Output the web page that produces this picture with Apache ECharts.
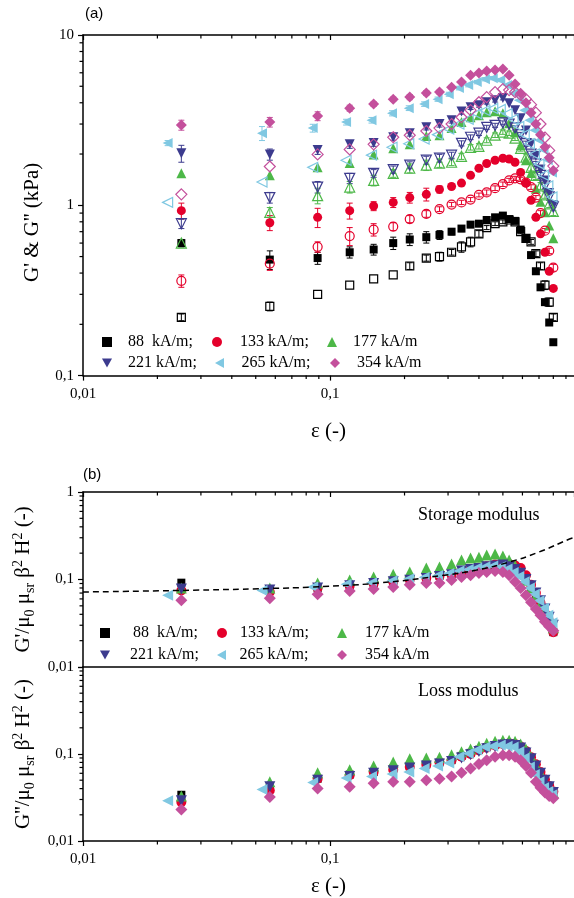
<!DOCTYPE html>
<html>
<head>
<meta charset="utf-8">
<script src="https://cdn.jsdelivr.net/npm/echarts@6.0.0/dist/echarts.min.js"></script>
<style>
  html, body { margin: 0; padding: 0; background: #fff; }
  #chart { width: 574px; height: 898px; }
</style>
</head>
<body>
<div id="chart"></div>
<script>
// strain amplitude (-), 265 kA/m runs sit a little to the left
const strain = [0.025, 0.057, 0.089, 0.12, 0.15, 0.18, 0.21, 0.245, 0.277, 0.31, 0.34, 0.37, 0.40,
  0.43, 0.465, 0.50, 0.53, 0.56, 0.59, 0.62, 0.65, 0.68, 0.71, 0.74, 0.77, 0.80];
const strain265 = [0.022, 0.053, 0.085, 0.116, 0.147, 0.178, 0.208, 0.24, 0.272, 0.302, 0.332, 0.362, 0.392,
  0.423, 0.455, 0.488, 0.52, 0.55, 0.58, 0.61, 0.64, 0.67, 0.70, 0.73, 0.76, 0.79];

const fields = ['88 kA/m', '133 kA/m', '177 kA/m', '221 kA/m', '265 kA/m', '354 kA/m'];
const legendText = ['88  kA/m;', '133 kA/m;', '177 kA/m', '221 kA/m;', '265 kA/m;', '354 kA/m'];

// (a) G' (filled) and G'' (open), kPa
const gp88 = [0.60, 0.48, 0.49, 0.53, 0.55, 0.60, 0.63, 0.65, 0.67, 0.70, 0.73, 0.77, 0.78, 0.82, 0.85, 0.87, 0.83, 0.81, 0.72, 0.64, 0.51, 0.41, 0.33, 0.27, 0.205, 0.157];
const gpp88 = [0.22, 0.255, 0.30, 0.34, 0.37, 0.39, 0.44, 0.49, 0.50, 0.53, 0.57, 0.61, 0.68, 0.74, 0.78, 0.80, 0.82, 0.80, 0.70, 0.64, 0.61, 0.52, 0.44, 0.34, 0.27, 0.22];
const gp133 = [0.93, 0.79, 0.85, 0.93, 0.99, 1.04, 1.11, 1.16, 1.24, 1.29, 1.35, 1.50, 1.65, 1.76, 1.84, 1.89, 1.87, 1.79, 1.56, 1.35, 1.07, 0.85, 0.68, 0.53, 0.41, 0.325];
const gpp133 = [0.36, 0.455, 0.57, 0.66, 0.72, 0.75, 0.83, 0.89, 0.95, 1.01, 1.04, 1.08, 1.15, 1.19, 1.26, 1.33, 1.40, 1.44, 1.42, 1.36, 1.28, 1.11, 0.90, 0.71, 0.54, 0.43];
const gp177 = [1.54, 1.50, 1.67, 1.77, 1.99, 2.16, 2.28, 2.55, 2.58, 2.84, 3.08, 3.29, 3.38, 3.52, 3.57, 3.47, 3.03, 2.69, 2.25, 1.84, 1.55, 1.25, 1.05, 0.91, 0.76, 0.64];
const gpp177 = [0.60, 0.91, 1.14, 1.28, 1.40, 1.54, 1.65, 1.72, 1.77, 1.79, 1.94, 2.19, 2.22, 2.41, 2.58, 2.69, 2.65, 2.48, 2.16, 1.92, 1.67, 1.50, 1.30, 1.15, 1.02, 0.92];
const gp221 = [2.02, 1.99, 2.11, 2.28, 2.32, 2.51, 2.65, 2.87, 3.00, 3.16, 3.55, 3.77, 3.87, 4.03, 4.14, 4.26, 3.98, 3.62, 3.25, 2.75, 2.30, 1.95, 1.62, 1.40, 1.18, 1.00];
const gpp221 = [0.78, 1.11, 1.28, 1.44, 1.54, 1.62, 1.72, 1.84, 1.89, 1.97, 2.31, 2.51, 2.65, 2.87, 2.95, 3.05, 3.00, 2.85, 2.60, 2.30, 2.00, 1.75, 1.50, 1.30, 1.12, 0.98];
const gp265 = [2.32, 2.65, 2.84, 3.08, 3.16, 3.47, 3.72, 3.93, 4.20, 4.49, 4.88, 5.08, 5.29, 5.50, 5.58, 5.44, 5.08, 4.55, 4.14, 3.62, 3.16, 2.76, 2.41, 2.11, 1.84, 1.56];
const gpp265 = [1.04, 1.37, 1.67, 1.84, 1.97, 2.19, 2.30, 2.45, 2.60, 2.80, 3.00, 3.20, 3.45, 3.60, 3.70, 3.65, 3.45, 3.20, 2.90, 2.60, 2.30, 2.00, 1.75, 1.50, 1.30, 1.12];
const gp354 = [2.96, 3.08, 3.34, 3.72, 3.93, 4.20, 4.32, 4.56, 4.62, 4.94, 5.29, 5.81, 5.98, 6.15, 6.23, 6.31, 5.81, 5.16, 4.55, 4.00, 3.50, 3.00, 2.60, 2.20, 1.90, 1.60];
const gpp354 = [1.16, 1.69, 1.99, 2.13, 2.28, 2.51, 2.58, 2.73, 2.84, 3.00, 3.29, 3.62, 4.03, 4.32, 4.62, 4.81, 4.75, 4.62, 4.45, 4.20, 3.90, 3.50, 3.00, 2.50, 2.10, 1.70];

// error bars (+/- kPa), 0 = none visible
const errGp88 = [0.03, 0.06, 0.04, 0.04, 0.04, 0.05, 0.05, 0.05, 0.04, 0.03, 0.03, 0.03, 0.03, 0.03, 0.02, 0.02, 0.02, 0.02, 0.02, 0, 0, 0, 0, 0, 0, 0];
const errGpp88 = [0.01, 0.015, 0, 0, 0, 0, 0.02, 0.02, 0.03, 0.02, 0.04, 0.04, 0.03, 0.02, 0.02, 0.02, 0.02, 0.02, 0.02, 0.02, 0.02, 0.02, 0.02, 0.02, 0.015, 0.01];
const errGp133 = [0.1, 0.08, 0.11, 0.1, 0.06, 0.07, 0.08, 0.1, 0.06, 0.04, 0.03, 0.03, 0.03, 0.03, 0.03, 0.03, 0, 0, 0, 0, 0, 0, 0, 0, 0, 0];
const errGpp133 = [0.03, 0.04, 0.04, 0.08, 0.06, 0.04, 0.04, 0.04, 0.03, 0.03, 0.03, 0.03, 0.03, 0.04, 0.04, 0.04, 0.04, 0.04, 0.04, 0.04, 0.04, 0.03, 0.03, 0.02, 0.02, 0.02];
const errGpp177 = [0, 0.06, 0.12, 0.1, 0.1, 0.08, 0.1, 0.12, 0.1, 0.08, 0.08, 0.08, 0.08, 0.08, 0.08, 0.08, 0.08, 0.08, 0.08, 0.08, 0.08, 0.08, 0.06, 0.05, 0.05, 0.05];
const errGp221 = [0.23, 0.15, 0.12, 0.12, 0.1, 0.1, 0.1, 0.1, 0.12, 0.12, 0.12, 0.12, 0.1, 0.1, 0.1, 0.1, 0, 0, 0, 0, 0, 0, 0, 0, 0, 0];
const errGpp221 = [0.05, 0.08, 0.1, 0.1, 0.08, 0.08, 0.08, 0.1, 0.1, 0.08, 0.08, 0.08, 0.08, 0.08, 0.08, 0.08, 0.08, 0.08, 0.08, 0.08, 0.08, 0.06, 0.06, 0.05, 0.05, 0.05];
const errGp265 = [0.08, 0.25, 0.15, 0.12, 0.12, 0.12, 0.12, 0.12, 0.12, 0.12, 0.12, 0.12, 0.12, 0.12, 0.12, 0.12, 0, 0, 0, 0, 0, 0, 0, 0, 0, 0];
const errGp354 = [0.2, 0.2, 0.2, 0.15, 0.12, 0.12, 0.15, 0.15, 0.12, 0.12, 0.1, 0.1, 0.1, 0.1, 0.1, 0.1, 0, 0, 0, 0, 0, 0, 0, 0, 0, 0];

// (b) normalised storage modulus G'/(mu0 musr beta^2 H^2)
const st88 = [0.092, 0.075, 0.080, 0.085, 0.090, 0.095, 0.100, 0.105, 0.110, 0.115, 0.120, 0.125, 0.130, 0.135, 0.140, 0.145, 0.140, 0.130, 0.115, 0.100, 0.082, 0.066, 0.053, 0.043, 0.033, 0.025];
const st133 = [0.075, 0.072, 0.080, 0.085, 0.090, 0.094, 0.100, 0.104, 0.110, 0.114, 0.120, 0.130, 0.136, 0.142, 0.148, 0.152, 0.150, 0.145, 0.135, 0.112, 0.087, 0.070, 0.054, 0.041, 0.032, 0.025];
const st177 = [0.080, 0.080, 0.091, 0.099, 0.107, 0.115, 0.122, 0.135, 0.139, 0.150, 0.167, 0.176, 0.180, 0.190, 0.196, 0.186, 0.167, 0.145, 0.120, 0.098, 0.080, 0.065, 0.053, 0.043, 0.035, 0.028];
const st221 = [0.078, 0.076, 0.080, 0.085, 0.090, 0.094, 0.098, 0.103, 0.108, 0.113, 0.125, 0.130, 0.134, 0.140, 0.143, 0.146, 0.140, 0.130, 0.118, 0.100, 0.085, 0.070, 0.057, 0.046, 0.037, 0.030];
const st265 = [0.066, 0.075, 0.082, 0.088, 0.092, 0.097, 0.102, 0.106, 0.111, 0.117, 0.125, 0.130, 0.135, 0.140, 0.143, 0.140, 0.132, 0.120, 0.108, 0.094, 0.080, 0.068, 0.057, 0.047, 0.039, 0.032];
const st354 = [0.058, 0.061, 0.068, 0.074, 0.078, 0.082, 0.087, 0.091, 0.091, 0.099, 0.107, 0.112, 0.119, 0.122, 0.125, 0.122, 0.112, 0.094, 0.080, 0.066, 0.055, 0.046, 0.039, 0.033, 0.029, 0.026];

// (b) normalised loss modulus G''/(mu0 musr beta^2 H^2)
const ls88 = [0.034, 0.040, 0.052, 0.058, 0.062, 0.068, 0.072, 0.076, 0.080, 0.085, 0.095, 0.103, 0.112, 0.120, 0.127, 0.130, 0.132, 0.128, 0.120, 0.106, 0.090, 0.074, 0.060, 0.050, 0.042, 0.036];
const ls133 = [0.028, 0.038, 0.052, 0.057, 0.062, 0.066, 0.071, 0.075, 0.080, 0.085, 0.093, 0.100, 0.110, 0.118, 0.125, 0.130, 0.133, 0.130, 0.122, 0.108, 0.092, 0.076, 0.062, 0.051, 0.043, 0.037];
const ls177 = [0.033, 0.048, 0.061, 0.066, 0.073, 0.081, 0.088, 0.090, 0.092, 0.098, 0.106, 0.114, 0.123, 0.133, 0.140, 0.144, 0.144, 0.140, 0.130, 0.114, 0.093, 0.075, 0.061, 0.048, 0.041, 0.036];
const ls221 = [0.029, 0.042, 0.050, 0.055, 0.060, 0.064, 0.069, 0.073, 0.077, 0.082, 0.090, 0.098, 0.107, 0.115, 0.122, 0.127, 0.128, 0.125, 0.117, 0.103, 0.088, 0.073, 0.060, 0.050, 0.042, 0.036];
const ls265 = [0.029, 0.039, 0.047, 0.053, 0.055, 0.059, 0.062, 0.068, 0.073, 0.079, 0.093, 0.101, 0.111, 0.120, 0.123, 0.127, 0.123, 0.120, 0.106, 0.090, 0.071, 0.058, 0.048, 0.041, 0.037, 0.034];
const ls354 = [0.023, 0.032, 0.040, 0.042, 0.046, 0.048, 0.048, 0.050, 0.052, 0.055, 0.061, 0.068, 0.077, 0.085, 0.093, 0.097, 0.097, 0.093, 0.085, 0.073, 0.061, 0.048, 0.041, 0.036, 0.033, 0.031];

// dashed model curve in the storage panel
const modelX = [0.01, 0.025, 0.057, 0.084, 0.156, 0.29, 0.39, 0.53, 0.70, 0.93, 0.97];
const modelY = [0.072, 0.075, 0.079, 0.082, 0.091, 0.112, 0.128, 0.158, 0.206, 0.29, 0.30];

// minor tick positions on the log axes
const xMinorTicks = [0.02, 0.03, 0.04, 0.05, 0.06, 0.07, 0.08, 0.09, 0.2, 0.3, 0.4, 0.5, 0.6, 0.7, 0.8, 0.9];
const yMinorTicksA = [0.2, 0.3, 0.4, 0.5, 0.6, 0.7, 0.8, 0.9, 2, 3, 4, 5, 6, 7, 8, 9];
const yMinorTicksB = [0.02, 0.03, 0.04, 0.05, 0.06, 0.07, 0.08, 0.09, 0.2, 0.3, 0.4, 0.5, 0.6, 0.7, 0.8, 0.9];

const X_MAX = 0.97;
const SERIF = '"Liberation Serif", "Times New Roman", serif';
const SANS = '"Liberation Sans", Arial, sans-serif';

const colors = ['#000000', '#e4002b', '#4db848', '#3c3b8e', '#80c8e2', '#c4509c'];
const symbols = ['rect', 'circle', 'triangle', 'path://M0,0L10,0L5,9Z', 'path://M0,5L9,0L9,10Z', 'diamond'];
const symSizes = [8, 9, 10, 10, 10, 11];
const symSizesB = [8, 10, 11, 11, 11, 12];

const gpAll = [gp88, gp133, gp177, gp221, gp265, gp354];
const gppAll = [gpp88, gpp133, gpp177, gpp221, gpp265, gpp354];
const stAll = [st88, st133, st177, st221, st265, st354];
const lsAll = [ls88, ls133, ls177, ls221, ls265, ls354];
const errGpAll = [errGp88, errGp133, null, errGp221, errGp265, errGp354];
const errGppAll = [errGpp88, errGpp133, errGpp177, errGpp221, null, null];

const xsFor = i => (i === 4 ? strain265 : strain);
const pts = (xs, ys) => ys.map((y, k) => [xs[k], y]);
// only decades get a label, written with a decimal comma
const fmt = v => {
  const e = Math.log10(v);
  if (Math.abs(e - Math.round(e)) > 1e-6) return '';
  return String(+(+v).toPrecision(3)).replace('.', ',');
};

const black = '#000';
const axisLine = { show: true, onZero: false, lineStyle: { color: black, width: 1.5 } };
const tickStyle = { color: black, width: 1.2 };
const labelStyle = { fontFamily: SERIF, fontSize: 15, color: black };

function scatter(i, data, xi, yi, open, size) {
  return {
    type: 'scatter',
    name: open ? fields[i] + " G''" : fields[i],
    xAxisIndex: xi, yAxisIndex: yi,
    data: data,
    symbol: symbols[i],
    symbolSize: size,
    itemStyle: open
      ? { color: 'rgba(255,255,255,0)', borderColor: colors[i], borderWidth: 1.2, opacity: 1 }
      : { color: colors[i], opacity: 1 },
    emphasis: { disabled: true },
    silent: true,
    z: 3
  };
}

function errBars(xs, ys, errs, color) {
  const d = [];
  errs.forEach((e, k) => { if (e > 0) d.push([xs[k], ys[k] - e, ys[k] + e]); });
  return {
    type: 'custom', xAxisIndex: 0, yAxisIndex: 0, data: d, silent: true, z: 2,
    encode: { x: 0, y: [1, 2] },
    renderItem(params, api) {
      const lo = api.coord([api.value(0), api.value(1)]);
      const hi = api.coord([api.value(0), api.value(2)]);
      const st = { stroke: color, lineWidth: 1 };
      return {
        type: 'group', children: [
          { type: 'line', shape: { x1: lo[0], y1: lo[1], x2: hi[0], y2: hi[1] }, style: st },
          { type: 'line', shape: { x1: lo[0] - 3, y1: lo[1], x2: lo[0] + 3, y2: lo[1] }, style: st },
          { type: 'line', shape: { x1: hi[0] - 3, y1: hi[1], x2: hi[0] + 3, y2: hi[1] }, style: st }
        ]
      };
    }
  };
}

// minor ticks along x: bottom edge outward and/or top edge inward
function xMinor(xi, yi, yRef, bottom, top) {
  return {
    type: 'custom', xAxisIndex: xi, yAxisIndex: yi, silent: true, clip: false, z: 1,
    data: xMinorTicks.map(v => [v, yRef]),
    renderItem(params, api) {
      const p = api.coord([api.value(0), yRef]);
      const cs = params.coordSys;
      const kids = [];
      if (bottom) kids.push({ type: 'line', shape: { x1: p[0], y1: cs.y + cs.height, x2: p[0], y2: cs.y + cs.height + 3.5 }, style: { stroke: black, lineWidth: 1.2 } });
      if (top) kids.push({ type: 'line', shape: { x1: p[0], y1: cs.y, x2: p[0], y2: cs.y + 3.5 }, style: { stroke: black, lineWidth: 1.2 } });
      return { type: 'group', children: kids };
    }
  };
}

function yMinor(xi, yi, vals) {
  return {
    type: 'custom', xAxisIndex: xi, yAxisIndex: yi, silent: true, clip: false, z: 1,
    data: vals.map(v => [0.05, v]),
    renderItem(params, api) {
      const p = api.coord([0.05, api.value(1)]);
      const cs = params.coordSys;
      return { type: 'line', shape: { x1: cs.x - 3.5, y1: p[1], x2: cs.x, y2: p[1] }, style: { stroke: black, lineWidth: 1.2 } };
    }
  };
}

const series = [];
for (let i = 0; i < 6; i++) series.push(scatter(i, pts(xsFor(i), gpAll[i]), 0, 0, false, symSizes[i]));
for (let i = 0; i < 6; i++) series.push(scatter(i, pts(xsFor(i), gppAll[i]), 0, 0, true, symSizes[i]));
for (let i = 0; i < 6; i++) {
  if (errGpAll[i]) series.push(errBars(xsFor(i), gpAll[i], errGpAll[i], colors[i]));
  if (errGppAll[i]) series.push(errBars(xsFor(i), gppAll[i], errGppAll[i], colors[i]));
}
for (let i = 0; i < 6; i++) series.push(scatter(i, pts(xsFor(i), stAll[i]), 2, 1, false, symSizesB[i]));
for (let i = 0; i < 6; i++) series.push(scatter(i, pts(xsFor(i), lsAll[i]), 4, 2, false, symSizesB[i]));
series.push({
  type: 'line', xAxisIndex: 2, yAxisIndex: 1, data: pts(modelX, modelY),
  smooth: true, symbol: 'none', silent: true, z: 5,
  lineStyle: { color: black, width: 1.5, type: [6, 4] }
});
series.push(xMinor(0, 0, 1, true, true));
series.push(xMinor(2, 1, 0.1, false, true));
series.push(xMinor(4, 2, 0.1, true, false));
series.push(yMinor(0, 0, yMinorTicksA));
series.push(yMinor(2, 1, yMinorTicksB));
series.push(yMinor(4, 2, yMinorTicksB));

// legend item placement: [icon centre x, text start x, centre y]
const legendSpotsA = [[102, 123, 337], [212, 235, 337], [327, 348, 337], [102, 123, 358], [215, 237, 358], [330, 352, 358]];
const legendSpotsB = [[100, 128, 628], [217, 235, 628], [337, 360, 628], [100, 125, 650], [217, 235, 650], [337, 360, 650]];
const legends = [];
[legendSpotsA, legendSpotsB].forEach(spots => {
  spots.forEach((s, i) => {
    legends.push({
      data: [fields[i]], left: s[0] - 5, top: s[2] - 8,
      itemWidth: 10, itemHeight: 10, selectedMode: false,
      itemStyle: { opacity: 1 },
      formatter: () => legendText[i],
      textStyle: { fontFamily: SERIF, fontSize: 16, color: black, lineHeight: 16, padding: [0, 0, 0, s[1] - s[0] - 10] }
    });
  });
});

const richName = {
  n: { fontFamily: SERIF, fontSize: 21, color: black, verticalAlign: 'middle' },
  sub: { fontFamily: SERIF, fontSize: 14, color: black, verticalAlign: 'bottom' },
  sup: { fontFamily: SERIF, fontSize: 14, color: black, verticalAlign: 'top' }
};

function logX(grid, pos, withLabels, ticks, inside, name) {
  return {
    type: 'log', logBase: 10, gridIndex: grid, position: pos, min: 0.01, max: X_MAX,
    axisLine: axisLine,
    axisTick: { show: ticks, inside: inside, length: 5, lineStyle: tickStyle },
    axisLabel: { show: withLabels, formatter: fmt, margin: 11, showMaxLabel: false, ...labelStyle },
    splitLine: { show: false }, minorTick: { show: false },
    name: name || '', nameLocation: 'middle', nameGap: 44,
    nameTextStyle: { fontFamily: SERIF, fontSize: 21, color: black }
  };
}

function logY(grid, min, max, name, gap, style, hideMax) {
  return {
    type: 'log', logBase: 10, gridIndex: grid, position: 'left', min: min, max: max,
    axisLine: axisLine,
    axisTick: { show: true, inside: false, length: 5, lineStyle: tickStyle },
    axisLabel: { formatter: v => (hideMax && v > 0.99 ? '' : fmt(v)), margin: 9, ...labelStyle },
    splitLine: { show: false }, minorTick: { show: false },
    name: name, nameLocation: 'middle', nameRotate: 90, nameGap: gap,
    nameTextStyle: style
  };
}

const xAxes = [
  logX(0, 'bottom', true, true, false, 'ε (-)'),
  logX(0, 'top', false, true, true),
  logX(1, 'bottom', false, false, false),
  logX(1, 'top', false, true, true),
  logX(2, 'bottom', true, true, false, 'ε (-)')
];
xAxes[0].nameGap = 45;
xAxes[4].nameGap = 35;

const yAxes = [
  logY(0, 0.1, 10, "G' & G'' (kPa)", 40,
    { fontFamily: SERIF, fontSize: 21, color: black, padding: [0, 34, 0, 0] }, false),
  logY(1, 0.01, 1, "{n|G'/μ}{sub|0}{n| μ}{sub|sr}{n| β}{sup|2}{n| H}{sup|2}{n| (-)}", 40,
    { fontFamily: SERIF, fontSize: 21, color: black, lineHeight: 26, rich: richName }, false),
  logY(2, 0.01, 1, "{n|G''/μ}{sub|0}{n| μ}{sub|sr}{n| β}{sup|2}{n| H}{sup|2}{n| (-)}", 40,
    { fontFamily: SERIF, fontSize: 21, color: black, lineHeight: 26, rich: richName }, true)
];

const chart = echarts.init(document.getElementById('chart'), null, { renderer: 'canvas' });
chart.setOption({
  backgroundColor: '#fff',
  animation: false,
  title: [
    { text: '(a)', left: 85, top: 6, padding: 0, textStyle: { fontFamily: SANS, fontSize: 15, fontWeight: 'normal', color: black } },
    { text: '(b)', left: 83, top: 467, padding: 0, textStyle: { fontFamily: SANS, fontSize: 15, fontWeight: 'normal', color: black } },
    { text: 'Storage modulus', left: 418, top: 506, padding: 0, textStyle: { fontFamily: SERIF, fontSize: 18, fontWeight: 'normal', color: black } },
    { text: 'Loss modulus', left: 418, top: 682, padding: 0, textStyle: { fontFamily: SERIF, fontSize: 18, fontWeight: 'normal', color: black } }
  ],
  legend: legends,
  grid: [
    { left: 83, top: 35, width: 494, height: 340.6 },
    { left: 83, top: 492, width: 494, height: 175 },
    { left: 83, top: 667, width: 494, height: 175 }
  ],
  xAxis: xAxes,
  yAxis: yAxes,
  series: series
});
</script>
</body>
</html>
